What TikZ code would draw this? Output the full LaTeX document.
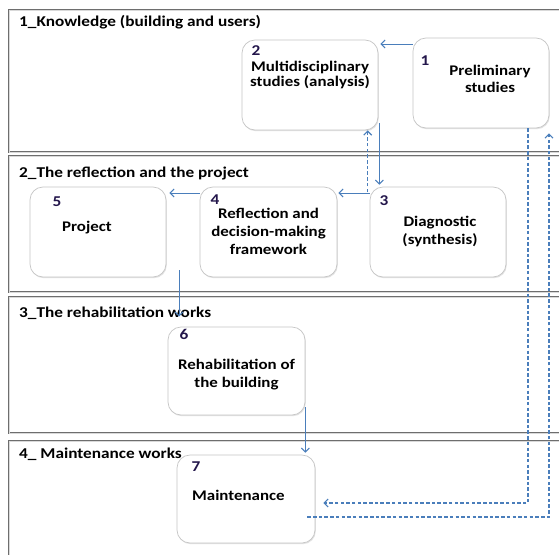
\documentclass[tikz,border=0pt]{standalone}
\usepackage{fontspec}
\setmainfont{Carlito}[FakeStretch=1.15]
\usetikzlibrary{arrows.meta,shadows,calc}
\definecolor{arrblue}{RGB}{74,126,187}
\definecolor{numcol}{RGB}{35,22,75}
\definecolor{lanegray}{RGB}{110,110,110}
\tikzset{
  lane/.style={draw=lanegray, line width=0.9pt, double=gray!30, double distance=0.8pt},
  lanelabel/.style={anchor=west, inner sep=0pt, font=\fontsize{15}{17}\selectfont\bfseries},
  stepbox/.style={draw=gray!45, line width=0.7pt, fill=white, rounded corners=13pt,
    minimum width=136pt, minimum height=90pt, inner sep=0pt,
    drop shadow={opacity=0.22, shadow xshift=0.8pt, shadow yshift=-1.2pt}},
  numlabel/.style={inner sep=0pt, text=numcol, font=\fontsize{15}{17}\selectfont\bfseries},
  boxtext/.style={inner sep=0pt, align=center, font=\fontsize{14.7}{18}\selectfont\bfseries},
  arr/.style={draw=arrblue, line width=1pt, -{Straight Barb[length=4pt,width=8pt]}},
  darr/.style={arr, dash pattern=on 3.5pt off 2.2pt, line width=1.1pt}
}
\begin{document}
\begin{tikzpicture}[x=1pt,y=-1pt]
\useasboundingbox (0,0) rectangle (559,554);
\clip (0,0) rectangle (559,554);
\fill[white] (0,0) rectangle (559,554);
% lanes
\draw[lane] (9,10) rectangle (575,152);
\draw[lane] (9,156) rectangle (575,292);
\draw[lane] (9,297) rectangle (575,433);
\draw[lane] (9,441) rectangle (575,580);
\node[lanelabel] (l1) at (19,22) {1\_Knowledge (building and users)};
\node[lanelabel] (l2) at (19,173) {2\_The reflection and the project};
\node[lanelabel] (l3) at (19,313) {3\_The rehabilitation works};
\node[lanelabel] (l4) at (19,454) {4\_ Maintenance works};
% boxes
\node[stepbox] (b1) at (481,83) {};
\node[stepbox] (b2) at (310,85) {};
\node[stepbox] (b3) at (438,232) {};
\node[stepbox, minimum width=137pt] (b4) at (268.5,232) {};
\node[stepbox] (b5) at (98,232) {};
\node[stepbox, minimum width=137pt, minimum height=88pt] (b6) at (236.5,371) {};
\node[stepbox, minimum width=138pt, minimum height=88pt] (b7) at (246,499) {};
% numbers
\node[numlabel] (n1) at (425,61) {1};
\node[numlabel] (n2) at (256,51) {2};
\node[numlabel] (n3) at (384,201) {3};
\node[numlabel] (n4) at (215,200) {4};
\node[numlabel] (n5) at (57,202) {5};
\node[numlabel] (n6) at (184,334) {6};
\node[numlabel] (n7) at (196,467) {7};
% texts
\node[boxtext, font=\fontsize{14.7}{16.5}\selectfont\bfseries] (t1) at (490,79) {Preliminary\\studies};
\node[boxtext, font=\fontsize{14.7}{15.5}\selectfont\bfseries] (t2) at (310,75) {Multidisciplinary\\studies (analysis)};
\node[boxtext] (t3) at (440,231) {Diagnostic\\(synthesis)};
\node[boxtext] (t4) at (268.5,231) {Reflection and\\decision-making\\framework};
\node[boxtext] (t5) at (87,228) {Project};
\node[boxtext] (t6) at (236.5,375) {Rehabilitation of\\the building};
\node[boxtext, anchor=west] (t7) at (192,495) {Maintenance};
% connectors
\draw[arr] (b1.west |- 0,44) -- ([xshift=2pt]b2.east |- 0,44);
\draw[arr] ([xshift=1pt]b2.east |- 0,123) -- ([xshift=1pt]b2.east |- b3.north) [shorten >=2pt];
\draw[darr] ([xshift=-2pt]b3.west |- 0,192) -- ([xshift=-2pt]b3.west |- b2.south);
\draw[arr] (b3.west |- 0,193) -- ([xshift=1pt]b4.east |- 0,193);
\draw[arr] (b4.west |- 0,193) -- ([xshift=3pt]b5.east |- 0,193);
\coordinate (c56) at (179,270);
\draw[arr, shorten >=10pt] (c56) -- (c56 |- b6.north);
\draw[arr, shorten >=2pt] (b6.east |- 0,407) -- (b6.east |- b7.north);
\draw[darr, shorten >=8pt] ([xshift=47pt]b1.south) |- ([yshift=-4pt]b7.east);
\draw[darr, shorten >=5pt] ([xshift=-8pt,yshift=-18pt]b7.east) -| ([xshift=68pt]b1.south);
\end{tikzpicture}
\end{document}
